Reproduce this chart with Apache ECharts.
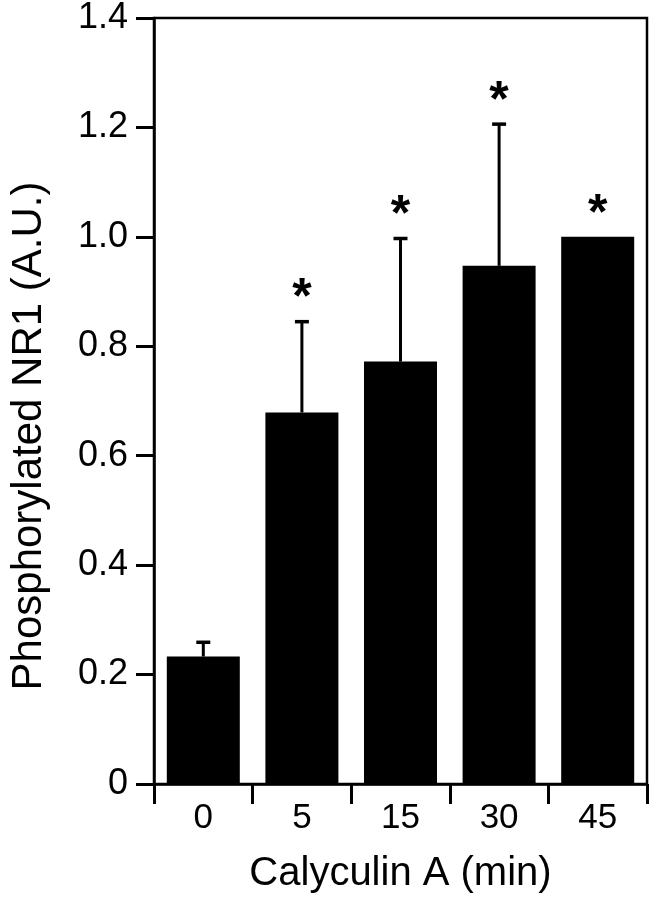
<!DOCTYPE html>
<html>
<head>
<meta charset="utf-8">
<script src="https://cdn.jsdelivr.net/npm/echarts@6/dist/echarts.min.js"></script>
<style>
html,body{margin:0;padding:0;background:#fff;}
#chart{width:654px;height:899px;}
</style>
</head>
<body>
<div id="chart"></div>
<script>
var categories = ['0', '5', '15', '30', '45'];
var means = [0.233, 0.679, 0.772, 0.947, 1.0];
var upperErr = [0.259, 0.845, 0.997, 1.206, null];
var significant = [false, true, true, true, true];
var yTicks = ['0', '0.2', '0.4', '0.6', '0.8', '1.0', '1.2', '1.4'];

var FONT = '"Liberation Sans", Arial, Helvetica, sans-serif';
var chart = echarts.init(document.getElementById('chart'), null, {renderer: 'canvas'});

var errData = categories.map(function (c, i) { return [i, means[i], upperErr[i]]; });
var starData = categories.map(function (c, i) {
  return [i, upperErr[i] != null ? upperErr[i] : means[i], significant[i] ? 1 : 0];
});

chart.setOption({
  animation: false,
  backgroundColor: '#fff',
  grid: {left: 152, right: 7, top: 18, bottom: 110, show: true, borderColor: '#000', borderWidth: 2.5, backgroundColor: 'transparent'},
  xAxis: {
    type: 'category',
    data: categories,
    boundaryGap: true,
    name: 'Calyculin A (min)',
    nameLocation: 'middle',
    nameGap: 70,
    nameTextStyle: {fontFamily: FONT, fontSize: 40, color: '#000'},
    axisLine: {lineStyle: {color: '#000', width: 2.5}},
    axisTick: {show: true, alignWithLabel: false, length: 20, lineStyle: {color: '#000', width: 3}},
    axisLabel: {fontFamily: FONT, fontSize: 35, color: '#000', margin: 17},
    splitLine: {show: false}
  },
  yAxis: {
    type: 'value',
    min: 0, max: 1.4, interval: 0.2,
    name: 'Phosphorylated NR1 (A.U.)',
    nameLocation: 'middle',
    nameGap: 104,
    nameRotate: 90,
    nameTextStyle: {fontFamily: FONT, fontSize: 42, color: '#000', padding: [0, 70, 0, 0]},
    axisLine: {show: true, lineStyle: {color: '#000', width: 2.5}},
    axisTick: {show: true, inside: false, length: 18, lineStyle: {color: '#000', width: 3}},
    axisLabel: {fontFamily: FONT, fontSize: 36, color: '#000', margin: 26,
      formatter: function (v) { var idx = Math.round(v / 0.2); return yTicks[idx]; }},
    splitLine: {show: false}
  },
  series: [
    {
      type: 'bar',
      data: means,
      barWidth: 73,
      itemStyle: {color: '#000'},
      z: 2
    },
    {
      type: 'custom',
      data: errData,
      z: 3,
      renderItem: function (params, api) {
        var hi = api.value(2);
        if (hi == null || isNaN(hi)) return null;
        var base = api.coord([api.value(0), api.value(1)]);
        var top = api.coord([api.value(0), hi]);
        var x = base[0];
        var half = 7;
        return {
          type: 'group',
          children: [
            {type: 'line', shape: {x1: x, y1: base[1], x2: x, y2: top[1]}, style: {stroke: '#000', lineWidth: 3}},
            {type: 'line', shape: {x1: x - half, y1: top[1], x2: x + half, y2: top[1]}, style: {stroke: '#000', lineWidth: 3.5}}
          ]
        };
      }
    },
    {
      type: 'custom',
      data: starData,
      z: 4,
      renderItem: function (params, api) {
        if (!api.value(2)) return null;
        var p = api.coord([api.value(0), api.value(1)]);
        return {
          type: 'text',
          x: p[0],
          y: p[1] - 22,
          style: {text: '*', fontFamily: FONT, fontWeight: 'bold', fontSize: 50, fill: '#000', align: 'center', verticalAlign: 'middle'}
        };
      }
    }
  ]
});
</script>
</body>
</html>
